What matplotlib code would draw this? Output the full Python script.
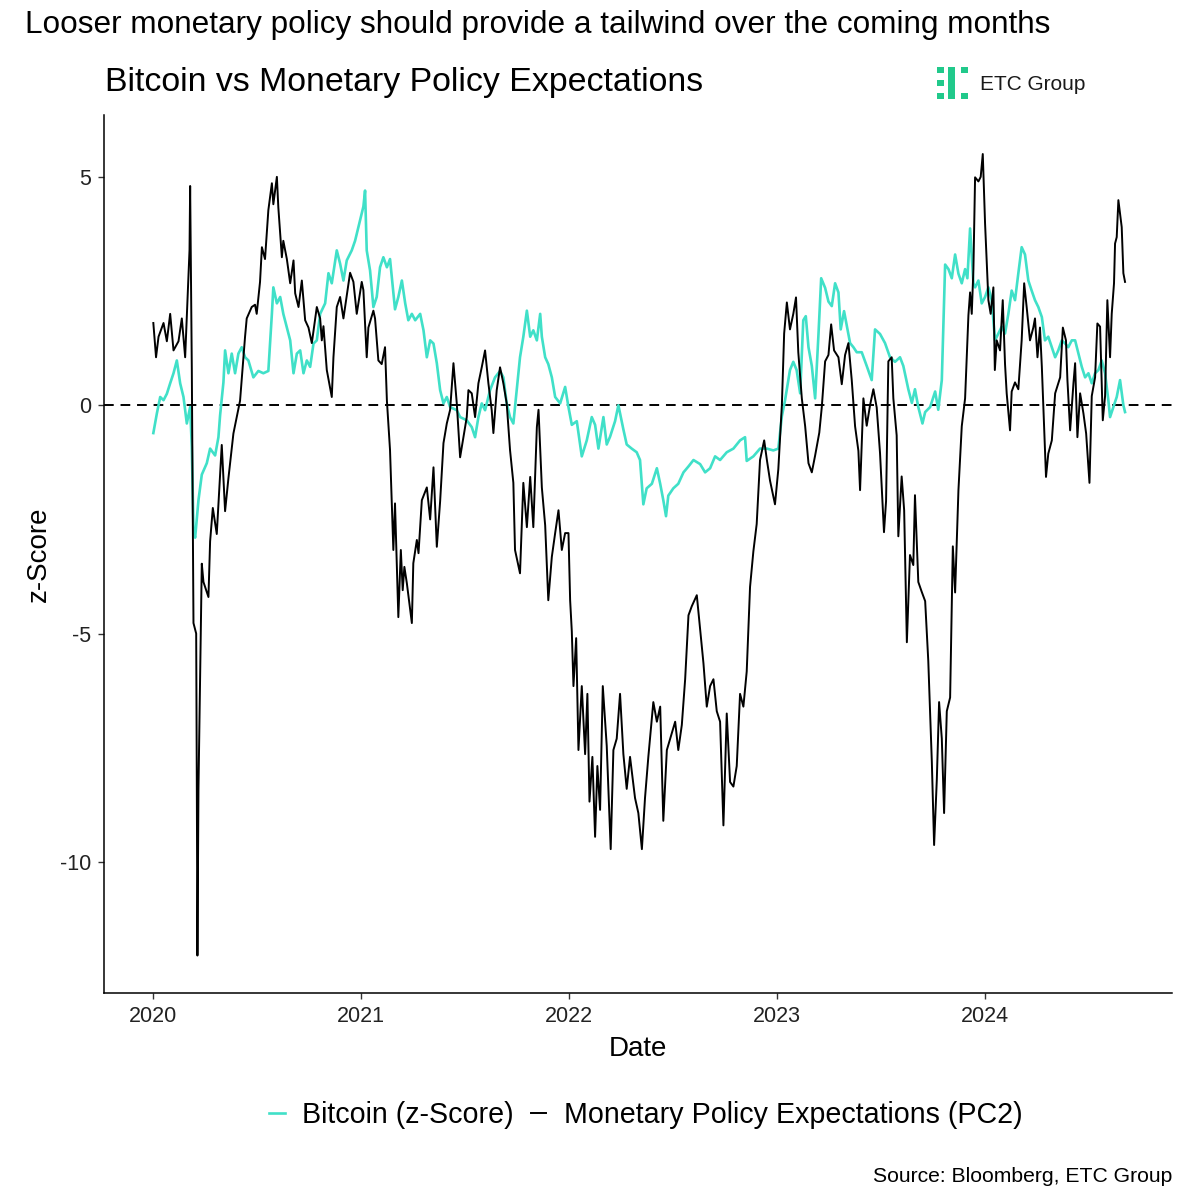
import matplotlib
matplotlib.use("Agg")
import matplotlib.pyplot as plt
from matplotlib.lines import Line2D
from matplotlib.patches import Rectangle

plt.rcParams['font.family'] = ['Liberation Sans', 'DejaVu Sans']

# ---- data (decimal years, z-scores) ----
btc_t = [2020.001, 2020.018, 2020.034, 2020.050, 2020.066, 2020.082, 2020.098, 2020.114,
         2020.130, 2020.146, 2020.162, 2020.178, 2020.186, 2020.194, 2020.202, 2020.218,
         2020.234, 2020.258, 2020.274, 2020.298, 2020.314, 2020.322, 2020.338, 2020.346,
         2020.362, 2020.378, 2020.394, 2020.410, 2020.426, 2020.442, 2020.458, 2020.482,
         2020.506, 2020.530, 2020.554, 2020.571, 2020.578, 2020.595, 2020.611, 2020.626,
         2020.643, 2020.659, 2020.675, 2020.691, 2020.707, 2020.723, 2020.739, 2020.755,
         2020.771, 2020.787, 2020.803, 2020.827, 2020.843, 2020.859, 2020.883, 2020.899,
         2020.915, 2020.931, 2020.955, 2020.971, 2020.995, 2021.011, 2021.019, 2021.027,
         2021.043, 2021.059, 2021.075, 2021.091, 2021.107, 2021.124, 2021.139, 2021.155,
         2021.163, 2021.179, 2021.196, 2021.212, 2021.227, 2021.244, 2021.260, 2021.284,
         2021.300, 2021.316, 2021.332, 2021.348, 2021.364, 2021.380, 2021.396, 2021.412,
         2021.428, 2021.460, 2021.476, 2021.508, 2021.532, 2021.548, 2021.564, 2021.580,
         2021.596, 2021.620, 2021.644, 2021.668, 2021.684, 2021.700, 2021.716, 2021.732,
         2021.748, 2021.764, 2021.780, 2021.797, 2021.813, 2021.828, 2021.845, 2021.861,
         2021.869, 2021.885, 2021.900, 2021.917, 2021.933, 2021.957, 2021.981, 2021.997,
         2022.013, 2022.037, 2022.061, 2022.085, 2022.109, 2022.125, 2022.141, 2022.165,
         2022.181, 2022.197, 2022.221, 2022.237, 2022.261, 2022.277, 2022.301, 2022.325,
         2022.341, 2022.357, 2022.373, 2022.398, 2022.422, 2022.438, 2022.453, 2022.466,
         2022.477, 2022.501, 2022.525, 2022.550, 2022.574, 2022.598, 2022.630, 2022.654,
         2022.678, 2022.702, 2022.726, 2022.758, 2022.790, 2022.822, 2022.846, 2022.854,
         2022.886, 2022.918, 2022.951, 2022.982, 2023.006, 2023.023, 2023.038, 2023.062,
         2023.078, 2023.094, 2023.111, 2023.126, 2023.138, 2023.151, 2023.167, 2023.183,
         2023.199, 2023.212, 2023.231, 2023.247, 2023.263, 2023.279, 2023.295, 2023.306,
         2023.322, 2023.335, 2023.351, 2023.367, 2023.383, 2023.407, 2023.431, 2023.455,
         2023.471, 2023.495, 2023.519, 2023.543, 2023.567, 2023.591, 2023.607, 2023.631,
         2023.648, 2023.663, 2023.679, 2023.699, 2023.712, 2023.736, 2023.760, 2023.775,
         2023.792, 2023.808, 2023.824, 2023.840, 2023.856, 2023.872, 2023.888, 2023.904,
         2023.915, 2023.928, 2023.944, 2023.952, 2023.968, 2023.984, 2024.000, 2024.016,
         2024.032, 2024.048, 2024.064, 2024.080, 2024.096, 2024.112, 2024.128, 2024.144,
         2024.160, 2024.176, 2024.192, 2024.208, 2024.224, 2024.240, 2024.256, 2024.273,
         2024.288, 2024.304, 2024.321, 2024.337, 2024.352, 2024.369, 2024.385, 2024.400,
         2024.417, 2024.433, 2024.449, 2024.465, 2024.481, 2024.497, 2024.513, 2024.529,
         2024.545, 2024.561, 2024.577, 2024.593, 2024.601, 2024.617, 2024.633, 2024.649,
         2024.665, 2024.673]
btc_z = [-0.61, -0.18, 0.18, 0.11, 0.25, 0.48, 0.70, 0.98,
         0.48, 0.18, -0.40, -0.04, -0.92, -2.73, -2.90, -2.08,
         -1.52, -1.27, -0.95, -1.10, -0.70, -0.22, 0.50, 1.20,
         0.70, 1.13, 0.70, 1.13, 1.27, 1.05, 0.98, 0.61,
         0.75, 0.70, 0.75, 2.00, 2.58, 2.23, 2.37, 2.00,
         1.70, 1.42, 0.70, 1.13, 1.20, 0.70, 0.98, 0.84,
         1.35, 1.42, 2.00, 2.23, 2.89, 2.67, 3.39, 3.10,
         2.73, 3.17, 3.39, 3.60, 4.05, 4.35, 4.70, 3.39,
         2.95, 2.15, 2.37, 3.02, 3.24, 3.02, 3.20, 2.45,
         2.10, 2.37, 2.73, 2.23, 1.86, 2.00, 1.86, 2.00,
         1.64, 1.05, 1.42, 1.35, 0.92, 0.33, 0.04, 0.18,
         -0.04, -0.11, -0.26, -0.33, -0.48, -0.70, -0.26, 0.04,
         -0.11, 0.33, 0.61, 0.75, 0.61, 0.04, -0.26, -0.40,
         0.33, 1.05, 1.50, 2.07, 1.50, 1.64, 1.42, 2.00,
         1.50, 1.05, 0.90, 0.61, 0.18, 0.04, 0.40, -0.04,
         -0.43, -0.35, -1.12, -0.77, -0.26, -0.43, -0.95, -0.26,
         -0.86, -0.69, -0.35, 0.00, -0.53, -0.86, -0.95, -1.03,
         -1.20, -2.17, -1.82, -1.72, -1.38, -1.72, -2.08, -2.43,
         -1.98, -1.82, -1.72, -1.47, -1.34, -1.20, -1.29, -1.47,
         -1.38, -1.12, -1.20, -1.03, -0.95, -0.77, -0.70, -1.22,
         -1.12, -0.95, -0.95, -0.99, -0.95, -0.24, 0.10, 0.77,
         0.95, 0.77, 0.26, 1.86, 1.95, 1.27, 0.86, 0.15,
         1.55, 2.78, 2.57, 2.27, 2.17, 2.67, 2.47, 1.66,
         2.06, 1.75, 1.36, 1.27, 1.16, 1.16, 0.86, 0.55,
         1.66, 1.56, 1.36, 1.05, 0.95, 1.05, 0.86, 0.35,
         0.05, 0.35, -0.04, -0.40, -0.15, -0.04, 0.30, -0.10,
         0.55, 3.08, 2.98, 2.78, 3.30, 2.88, 2.67, 2.98,
         2.78, 3.87, 2.67, 2.58, 2.73, 2.23, 2.37, 2.58,
         2.30, 1.42, 1.57, 1.72, 1.57, 2.00, 2.51, 2.30,
         2.89, 3.46, 3.30, 2.73, 2.51, 2.30, 2.15, 1.93,
         1.42, 1.50, 1.27, 1.05, 1.20, 1.42, 1.35, 1.27,
         1.42, 1.42, 1.13, 0.84, 0.61, 0.70, 0.48, 0.70,
         0.77, 0.98, 0.70, 0.10, -0.26, -0.04, 0.18, 0.55,
         0.00, -0.15]

mp_t = [2020.001, 2020.014, 2020.026, 2020.050, 2020.066, 2020.082, 2020.098, 2020.122,
        2020.138, 2020.154, 2020.175, 2020.178, 2020.186, 2020.194, 2020.207, 2020.210,
        2020.213, 2020.218, 2020.226, 2020.234, 2020.242, 2020.266, 2020.274, 2020.287,
        2020.306, 2020.330, 2020.346, 2020.362, 2020.386, 2020.418, 2020.434, 2020.442,
        2020.450, 2020.474, 2020.490, 2020.498, 2020.514, 2020.523, 2020.538, 2020.554,
        2020.571, 2020.578, 2020.595, 2020.602, 2020.619, 2020.626, 2020.643, 2020.659,
        2020.675, 2020.683, 2020.699, 2020.715, 2020.731, 2020.747, 2020.763, 2020.787,
        2020.803, 2020.811, 2020.819, 2020.835, 2020.859, 2020.867, 2020.883, 2020.899,
        2020.915, 2020.931, 2020.947, 2020.963, 2020.979, 2021.003, 2021.011, 2021.027,
        2021.035, 2021.059, 2021.067, 2021.083, 2021.099, 2021.115, 2021.124, 2021.139,
        2021.155, 2021.163, 2021.179, 2021.191, 2021.200, 2021.208, 2021.220, 2021.244,
        2021.251, 2021.268, 2021.276, 2021.292, 2021.316, 2021.332, 2021.348, 2021.364,
        2021.380, 2021.396, 2021.412, 2021.428, 2021.444, 2021.460, 2021.476, 2021.492,
        2021.508, 2021.516, 2021.532, 2021.548, 2021.564, 2021.580, 2021.596, 2021.612,
        2021.628, 2021.636, 2021.652, 2021.668, 2021.684, 2021.700, 2021.716, 2021.732,
        2021.740, 2021.764, 2021.780, 2021.797, 2021.813, 2021.828, 2021.845, 2021.853,
        2021.869, 2021.885, 2021.900, 2021.917, 2021.933, 2021.949, 2021.965, 2021.981,
        2021.997, 2022.005, 2022.013, 2022.021, 2022.034, 2022.045, 2022.061, 2022.077,
        2022.088, 2022.098, 2022.112, 2022.125, 2022.136, 2022.149, 2022.162, 2022.181,
        2022.200, 2022.213, 2022.229, 2022.245, 2022.261, 2022.277, 2022.293, 2022.317,
        2022.333, 2022.350, 2022.365, 2022.381, 2022.405, 2022.422, 2022.438, 2022.453,
        2022.470, 2022.486, 2022.510, 2022.525, 2022.542, 2022.558, 2022.574, 2022.590,
        2022.614, 2022.630, 2022.646, 2022.662, 2022.678, 2022.694, 2022.710, 2022.726,
        2022.742, 2022.758, 2022.774, 2022.790, 2022.806, 2022.822, 2022.838, 2022.854,
        2022.870, 2022.886, 2022.902, 2022.918, 2022.938, 2022.951, 2022.966, 2022.990,
        2023.006, 2023.023, 2023.034, 2023.047, 2023.062, 2023.078, 2023.091, 2023.102,
        2023.119, 2023.135, 2023.151, 2023.167, 2023.183, 2023.203, 2023.215, 2023.231,
        2023.247, 2023.260, 2023.274, 2023.295, 2023.311, 2023.327, 2023.343, 2023.359,
        2023.375, 2023.391, 2023.399, 2023.415, 2023.431, 2023.447, 2023.463, 2023.479,
        2023.495, 2023.514, 2023.524, 2023.535, 2023.551, 2023.559, 2023.575, 2023.583,
        2023.599, 2023.611, 2023.624, 2023.639, 2023.655, 2023.663, 2023.679, 2023.695,
        2023.712, 2023.727, 2023.744, 2023.755, 2023.768, 2023.779, 2023.792, 2023.803,
        2023.816, 2023.832, 2023.845, 2023.856, 2023.872, 2023.888, 2023.904, 2023.920,
        2023.928, 2023.936, 2023.944, 2023.952, 2023.968, 2023.979, 2023.989, 2024.000,
        2024.016, 2024.027, 2024.040, 2024.047, 2024.056, 2024.072, 2024.085, 2024.096,
        2024.104, 2024.120, 2024.128, 2024.144, 2024.160, 2024.176, 2024.188, 2024.200,
        2024.216, 2024.232, 2024.240, 2024.252, 2024.264, 2024.273, 2024.280, 2024.293,
        2024.304, 2024.321, 2024.337, 2024.352, 2024.361, 2024.374, 2024.389, 2024.396,
        2024.409, 2024.425, 2024.433, 2024.444, 2024.457, 2024.473, 2024.486, 2024.502,
        2024.513, 2024.529, 2024.540, 2024.553, 2024.566, 2024.577, 2024.588, 2024.601,
        2024.609, 2024.620, 2024.625, 2024.633, 2024.641, 2024.657, 2024.665, 2024.673]
mp_z = [1.80, 1.05, 1.50, 1.80, 1.40, 2.00, 1.20, 1.40,
        1.90, 1.05, 3.40, 4.80, 0.80, -4.77, -5.00, -8.20,
        -12.05, -8.40, -5.90, -3.47, -3.87, -4.20, -2.98, -2.25,
        -2.82, -0.87, -2.32, -1.60, -0.62, 0.10, 1.05, 1.50,
        1.90, 2.15, 2.20, 2.00, 2.70, 3.46, 3.20, 4.27,
        4.86, 4.40, 5.00, 4.33, 3.24, 3.60, 3.20, 2.67,
        3.17, 2.45, 2.15, 2.73, 1.86, 1.70, 1.36, 2.15,
        1.90, 1.42, 1.73, 0.77, 0.18, 1.05, 2.15, 2.37,
        1.90, 2.40, 2.90, 2.70, 2.00, 2.70, 2.52, 1.05,
        1.70, 2.07, 1.90, 0.98, 0.90, 1.27, 0.10, -0.98,
        -3.17, -2.15, -4.64, -3.17, -4.05, -3.54, -3.90, -4.77,
        -3.46, -2.95, -3.24, -2.08, -1.80, -2.50, -1.36, -3.10,
        -2.10, -0.83, -0.40, -0.10, 0.92, 0.04, -1.14, -0.70,
        -0.26, 0.33, 0.26, -0.26, 0.48, 0.83, 1.20, 0.48,
        -0.11, -0.61, 0.33, 0.83, 0.48, 0.04, -0.98, -1.70,
        -3.17, -3.68, -1.70, -2.67, -1.57, -2.67, -0.48, -0.10,
        -1.80, -2.63, -4.27, -3.32, -2.80, -2.30, -3.17, -2.80,
        -2.80, -4.27, -4.95, -6.15, -5.10, -7.55, -6.15, -7.64,
        -6.32, -8.68, -7.70, -9.45, -7.90, -8.86, -6.15, -7.46,
        -9.72, -7.55, -7.30, -6.32, -7.64, -8.40, -7.70, -8.60,
        -8.93, -9.72, -8.60, -7.70, -6.50, -6.93, -6.60, -9.10,
        -7.55, -7.30, -6.93, -7.55, -7.00, -6.00, -4.60, -4.40,
        -4.16, -4.90, -5.65, -6.60, -6.15, -6.00, -6.70, -6.93,
        -9.20, -6.75, -8.25, -8.35, -7.90, -6.32, -6.60, -5.83,
        -3.98, -3.20, -2.60, -1.20, -0.77, -1.20, -1.65, -2.17,
        -1.40, 0.00, 1.57, 2.25, 1.66, 2.00, 2.36, 1.16,
        0.15, -0.46, -1.27, -1.47, -1.10, -0.60, -0.04, 0.96,
        1.10, 1.77, 1.20, 1.05, 0.46, 1.10, 1.36, 0.55,
        -0.46, -1.00, -1.86, 0.15, -0.45, 0.00, 0.35, -0.05,
        -1.05, -2.78, -2.10, 0.96, 1.05, 0.15, -0.66, -2.87,
        -1.56, -2.30, -5.19, -3.28, -3.50, -1.97, -3.87, -4.08,
        -4.29, -5.60, -7.80, -9.63, -8.20, -6.50, -7.30, -8.93,
        -6.70, -6.40, -3.09, -4.10, -1.86, -0.46, 0.15, 1.97,
        2.47, 2.00, 2.98, 4.99, 4.90, 5.00, 5.50, 3.98,
        2.30, 2.00, 2.58, 0.77, 1.42, 1.20, 2.30, 0.90,
        0.26, -0.55, 0.30, 0.50, 0.35, 1.42, 2.67, 2.15,
        1.42, 1.70, 1.90, 1.05, 1.70, 0.84, 0.00, -1.57,
        -1.06, -0.77, 0.26, 0.48, 0.61, 1.70, 1.42, 0.55,
        -0.55, 0.48, 0.92, -0.70, 0.26, -0.18, -0.62, -1.70,
        0.20, 0.61, 1.79, 1.72, -0.33, 0.20, 2.30, 1.05,
        2.00, 2.67, 3.54, 3.68, 4.49, 3.90, 2.89, 2.70]

year_ticks = [2020, 2021, 2022, 2023, 2024]
z_ticks = [5, 0, -5, -10]

cyan = '#40e0c8'
logo_green = '#21c98b'

fig = plt.figure(figsize=(12, 12), dpi=100)
ax = fig.add_axes([0.0867, 0.1725, 0.89, 0.7315])

ax.axhline(0, color='black', lw=1.4, ls=(0, (5, 3.5)), zorder=1)
ax.plot(btc_t, btc_z, color=cyan, lw=1.9, zorder=2)
ax.plot(mp_t, mp_z, color='black', lw=1.4, zorder=3)

ax.set_xlim(2019.764, 2024.899)
ax.set_ylim(-12.87, 6.35)
ax.set_xticks(year_ticks)
ax.set_xticklabels([str(y) for y in year_ticks])
ax.set_yticks(z_ticks)
ax.set_yticklabels([str(v) for v in z_ticks])

for s in ['top', 'right']:
    ax.spines[s].set_visible(False)
for s in ['left', 'bottom']:
    ax.spines[s].set_linewidth(1.1)
ax.tick_params(length=4, width=1.0, colors='#333333', labelsize=15.5, labelcolor='#222222', pad=5)

ax.set_xlabel('Date', fontsize=20, labelpad=7)
ax.set_ylabel('z-Score', fontsize=20, labelpad=6)

fig.text(0.021, 0.979, 'Looser monetary policy should provide a tailwind over the coming months',
         fontsize=22.7, va='center', ha='left')
fig.text(0.0875, 0.931, 'Bitcoin vs Monetary Policy Expectations', fontsize=24.4, va='center', ha='left')
fig.text(0.977, 0.020, 'Source: Bloomberg, ETC Group', fontsize=15.2, va='center', ha='right')

# logo
W, H = 1200.0, 1200.0
blocks = [(937, 67, 7, 6), (937, 80, 7, 6), (937, 93, 7, 6),
          (948, 67, 7, 32), (961, 67, 7, 6), (961, 93, 7, 6)]
for bx, by, bw, bh in blocks:
    fig.patches.append(Rectangle((bx / W, 1 - (by + bh) / H), bw / W, bh / H,
                                 transform=fig.transFigure, color=logo_green, lw=0))
fig.text(0.8167, 0.930, 'ETC Group', fontsize=15, va='center', ha='left', color='#1a1a1a')

handles = [Line2D([], [], color=cyan, lw=1.9), Line2D([], [], color='black', lw=1.4)]
fig.legend(handles, ['Bitcoin (z-Score)', 'Monetary Policy Expectations (PC2)'],
           loc='center', bbox_to_anchor=(0.538, 0.071), ncol=2, frameon=False,
           fontsize=20.6, handlelength=0.55, handletextpad=0.6, columnspacing=0.6)

fig.savefig('out.png', dpi=100)
